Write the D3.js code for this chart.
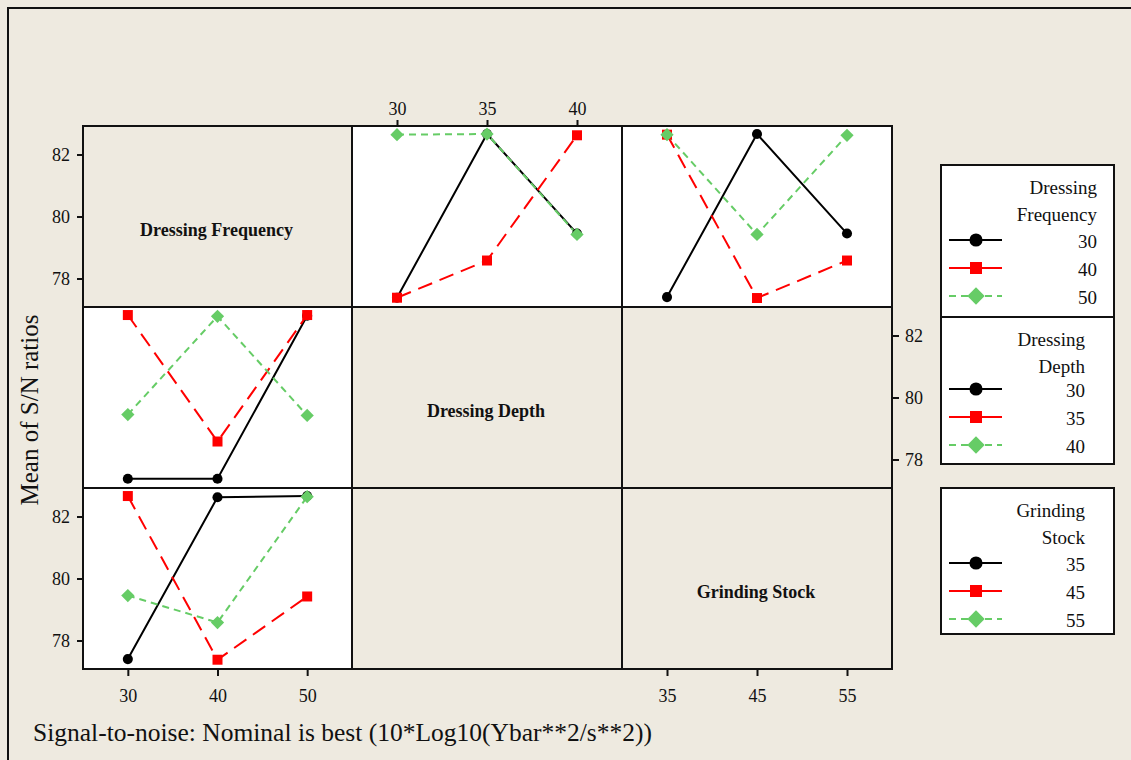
<!DOCTYPE html>
<html>
<head>
<meta charset="utf-8">
<script src="https://cdn.jsdelivr.net/npm/d3@7"></script>
<style>
  body { margin: 0; background: #fff; }
  text { font-family: "Liberation Serif", "Times New Roman", serif; fill: #111; }
</style>
</head>
<body>
<svg id="chart" width="1131" height="760"></svg>
<script>
// factors and levels
const factorNames = ["Dressing Frequency", "Dressing Depth", "Grinding Stock"];
const legendTitles = [["Dressing", "Frequency"], ["Dressing", "Depth"], ["Grinding", "Stock"]];
const dfLevels = ["30", "40", "50"];
const ddLevels = ["30", "35", "40"];
const gsLevels = ["35", "45", "55"];
const yTicks = [78, 80, 82];

// mean S/N values, one row per trace level
const dfByDD = [[77.38, 82.66, 79.45], [77.38, 78.58, 82.62], [82.64, 82.66, 79.42]];
const dfByGS = [[77.40, 82.66, 79.45], [82.64, 77.37, 78.58], [82.64, 79.42, 82.62]];
const ddByDF = [[77.38, 77.38, 82.64], [82.66, 78.58, 82.66], [79.45, 82.62, 79.42]];
const gsByDF = [[77.40, 82.62, 82.66], [82.66, 77.38, 79.42], [79.45, 78.58, 82.64]];

const allLevels = [dfLevels, ddLevels, gsLevels];

const panels = [
  {row: 0, col: 1, values: dfByDD},
  {row: 0, col: 2, values: dfByGS},
  {row: 1, col: 0, values: ddByDF},
  {row: 2, col: 0, values: gsByDF}
];

const styles = [
  {color: "#000000", dash: null, legendDash: null, shape: "circle"},
  {color: "#ff0000", dash: "15,8", legendDash: null, shape: "square"},
  {color: "#66cc66", dash: "7,5", legendDash: "7,5", shape: "diamond"}
];

const serif = '"Liberation Serif", "Times New Roman", serif';
const bg = "#eeeae0";
const colEdges = [83, 352, 622, 892];
const rowEdges = [126, 307, 488, 669];

var svg = d3.select("#chart");

svg.append("rect").attr("width", 1131).attr("height", 760).attr("fill", bg);
svg.append("rect").attr("x", 8).attr("y", 8).attr("width", 1140).attr("height", 770)
  .attr("fill", "none").attr("stroke", "#111").attr("stroke-width", 2);

const xScales = allLevels.map((lv, i) =>
  d3.scalePoint().domain(lv).range([colEdges[i], colEdges[i + 1]]).padding(0.5));
const yScales = [0, 1, 2].map(i => {
  const half = (rowEdges[i + 1] - rowEdges[i]) / 2 / 31;
  return d3.scaleLinear().domain([80 - half, 80 + half]).range([rowEdges[i + 1], rowEdges[i]]);
});

function markerPath(shape, big)
{
  if (shape == "circle") return d3.symbol().type(d3.symbolCircle).size(big ? 135 : 80)();
  if (shape == "square") return d3.symbol().type(d3.symbolSquare).size(big ? 144 : 100)();
  return d3.symbol().type(d3.symbolSquare).size(big ? 150 : 88)();
}

// panel backgrounds
for (let r = 0; r < 3; r++) {
  for (let c = 0; c < 3; c++) {
    const hasData = panels.some(p => p.row == r && p.col == c);
    svg.append("rect")
      .attr("x", colEdges[c]).attr("y", rowEdges[r])
      .attr("width", colEdges[c + 1] - colEdges[c]).attr("height", rowEdges[r + 1] - rowEdges[r])
      .attr("fill", hasData ? "#ffffff" : bg)
      .attr("stroke", "#111").attr("stroke-width", 2);
  }
}

// diagonal titles
factorNames.forEach((name, i) => {
  svg.append("text")
    .attr("x", (colEdges[i] + colEdges[i + 1]) / 2 - 1)
    .attr("y", (rowEdges[i] + rowEdges[i + 1]) / 2 + 19)
    .attr("text-anchor", "middle")
    .style("font-family", serif).style("font-size", "18px").style("font-weight", "bold")
    .text(name);
});

// lines and markers
panels.forEach(p => {
  const x = xScales[p.col];
  const y = yScales[p.row];
  const lv = allLevels[p.col];
  const g = svg.append("g");
  const line = d3.line().x((d, i) => x(lv[i])).y(d => y(d));
  p.values.forEach((series, s) => {
    g.append("path").attr("d", line(series))
      .attr("fill", "none").attr("stroke", styles[s].color).attr("stroke-width", 2)
      .attr("stroke-dasharray", styles[s].dash);
  });
  p.values.forEach((series, s) => {
    g.selectAll(null).data(series).enter().append("path")
      .attr("d", markerPath(styles[s].shape, false))
      .attr("fill", styles[s].color)
      .attr("transform", (d, i) => `translate(${x(lv[i])},${y(d)})` + (styles[s].shape == "diamond" ? " rotate(45)" : ""));
  });
});

function styleAxis(g)
{
  g.select(".domain").remove();
  g.attr("font-family", null).attr("font-size", null);
  g.selectAll("line").attr("stroke", "#111").attr("stroke-width", 2);
  g.selectAll("text").attr("fill", "#111")
    .style("font-family", serif).style("font-size", "18px");
}

// left axes rows 1 and 3
[0, 2].forEach(r => {
  svg.append("g").attr("transform", `translate(${colEdges[0]},0)`)
    .call(d3.axisLeft(yScales[r]).tickValues(yTicks).tickSize(6).tickPadding(7).tickFormat(d3.format("d")))
    .call(styleAxis);
});
// right axis row 2
svg.append("g").attr("transform", `translate(${colEdges[3]},0)`)
  .call(d3.axisRight(yScales[1]).tickValues(yTicks).tickSize(7).tickPadding(6).tickFormat(d3.format("d")))
  .call(styleAxis);
// top axis column 2
svg.append("g").attr("transform", `translate(0,${rowEdges[0]})`)
  .call(d3.axisTop(xScales[1]).tickSize(6).tickPadding(5))
  .call(styleAxis);
// bottom axes columns 1 and 3
[0, 2].forEach(c => {
  svg.append("g").attr("transform", `translate(0,${rowEdges[3]})`)
    .call(d3.axisBottom(xScales[c]).tickSize(7).tickPadding(13))
    .call(styleAxis);
});

// axis titles
svg.append("text").attr("transform", "translate(38,410) rotate(-90)")
  .attr("text-anchor", "middle").style("font-family", serif).style("font-size", "25px")
  .text("Mean of S/N ratios");
svg.append("text").attr("x", 33).attr("y", 741)
  .style("font-family", serif).style("font-size", "25.5px")
  .text("Signal-to-noise: Nominal is best (10*Log10(Ybar**2/s**2))");

// legends
const legendBoxes = [
  {top: 165, bottom: 317, right: 1097, rows: 75},
  {top: 317, bottom: 464, right: 1085, rows: 72},
  {top: 488, bottom: 634, right: 1085, rows: 75}
];
legendBoxes.forEach((b, i) => {
  const g = svg.append("g");
  g.append("rect").attr("x", 941).attr("y", b.top).attr("width", 173).attr("height", b.bottom - b.top)
    .attr("fill", "#fff").attr("stroke", "#111").attr("stroke-width", 2);
  legendTitles[i].forEach((t, k) => {
    g.append("text").attr("x", b.right).attr("y", b.top + 29 + k * 27)
      .attr("text-anchor", "end").style("font-family", serif).style("font-size", "19px").text(t);
  });
  allLevels[i].forEach((lv, s) => {
    const cy = b.top + b.rows + s * 28;
    g.append("line").attr("x1", 949).attr("x2", 1002).attr("y1", cy).attr("y2", cy)
      .attr("stroke", styles[s].color).attr("stroke-width", 2)
      .attr("stroke-dasharray", styles[s].legendDash);
    g.append("path").attr("d", markerPath(styles[s].shape, true))
      .attr("fill", styles[s].color)
      .attr("transform", `translate(976,${cy})` + (styles[s].shape == "diamond" ? " rotate(45)" : ""));
    g.append("text").attr("x", b.right).attr("y", cy + 8)
      .attr("text-anchor", "end").style("font-family", serif).style("font-size", "19px").text(lv);
  });
});
</script>
</body>
</html>
